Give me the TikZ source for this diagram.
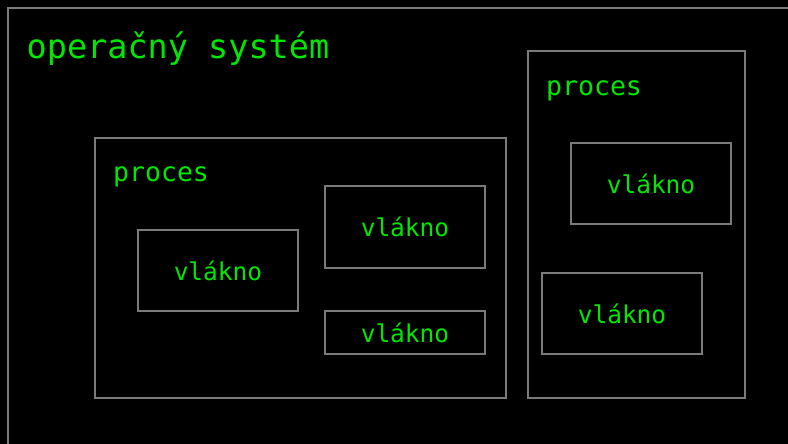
\documentclass[tikz,border=0pt]{standalone}
\usepackage{fontspec}
\setmonofont{DejaVu Sans Mono}
\usetikzlibrary{positioning}

\definecolor{termgreen}{HTML}{00E800}
\definecolor{boxgray}{HTML}{7A7A7A}

\tikzset{
  box/.style={draw=boxgray, line width=1.5pt, inner sep=0pt, outer sep=0pt, anchor=north west},
  thread/.style={box, minimum width=160pt, text=termgreen,
    font=\ttfamily\fontsize{24.5}{29}\selectfont},
  caption/.style={text=termgreen, inner sep=0pt, anchor=base west,
    font=\ttfamily\fontsize{26.5}{31}\selectfont},
}

\begin{document}
\begin{tikzpicture}[x=1pt, y=-1pt]
\fill[black] (0,0) rectangle (788,444);
\useasboundingbox (0,0) rectangle (788,444);
\clip (0,0) rectangle (788,444);

% the whole OS, runs off the page
\draw[boxgray, line width=1.5pt] (8,460) -- (8,8) -- (800,8);
\node[caption, font=\ttfamily\fontsize{33.5}{40}\selectfont] (os) at (26.5,59) {operačný systém};

% processes
\node[box, minimum width=411pt, minimum height=260pt] (p1) at (95,138) {};
\node[box, minimum width=217pt, minimum height=347pt] (p2) at (528,51) {};
\node[caption] (p1lbl) at (113,181) {proces};
\node[caption] (p2lbl) at (546,95.5) {proces};

% threads
\node[thread, minimum height=81pt] (t1) at (138,230) {vlákno};
\node[thread, minimum height=82pt] (t2) at (325,186) {vlákno};
\node[thread, minimum height=43pt] (t3) at (325,311) {vlákno};
\node[thread, minimum height=81pt] (t4) at (571,143) {vlákno};
\node[thread, minimum height=81pt] (t5) at (542,273) {vlákno};
\end{tikzpicture}
\end{document}
